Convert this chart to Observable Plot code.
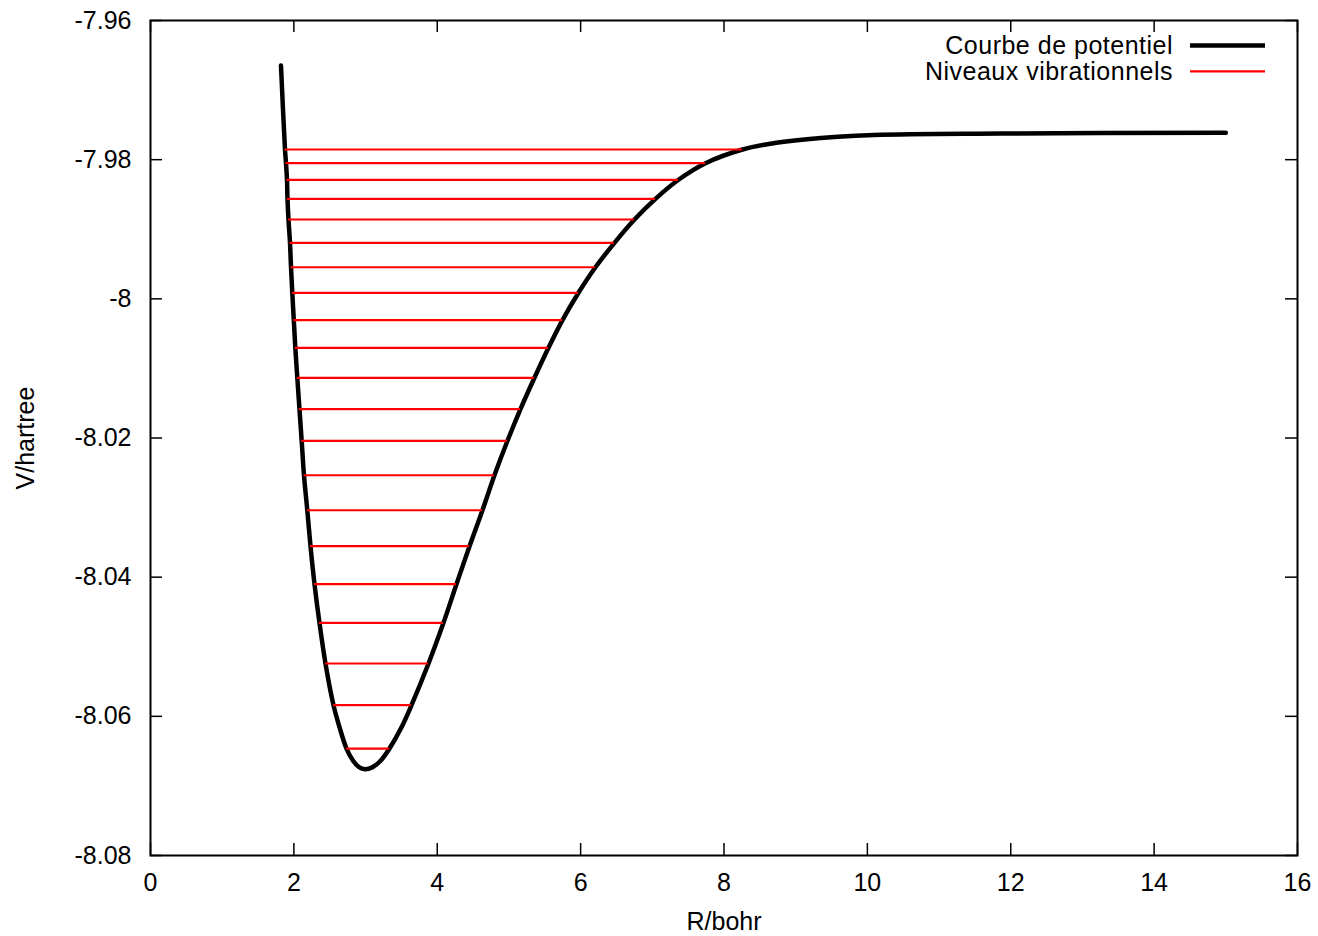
<!DOCTYPE html>
<html>
<head>
<meta charset="utf-8">
<script src="https://cdn.jsdelivr.net/npm/d3@7"></script>
<script src="https://cdn.jsdelivr.net/npm/@observablehq/plot@0.6"></script>
<style>
html, body { margin: 0; padding: 0; background: #fff; }
#wrap { position: relative; width: 1318px; height: 936px; font-family: "Liberation Sans", Arial, sans-serif; }
#legend { position: absolute; left: 0; top: 0; pointer-events: none; }
</style>
</head>
<body>
<div id="wrap"></div>
<script>
// Potential curve (R in bohr, V in hartree)
const curveR = [1.820, 1.876, 1.890, 1.904, 1.911, 1.925, 1.946, 1.960, 1.978, 1.999, 2.020, 2.048, 2.078, 2.109, 2.141, 2.187, 2.232, 2.288, 2.357, 2.441, 2.553, 2.635, 2.734, 2.824, 2.909, 2.990, 3.099, 3.213, 3.334, 3.505, 3.641, 3.878, 4.087, 4.268, 4.450, 4.631, 4.798, 4.980, 5.161, 5.356, 5.552, 5.747, 5.970, 6.207, 6.472, 6.751, 7.044, 7.365, 7.742, 8.258, 8.650, 9.120, 10.090, 11.870, 15.000];
const curveV = [-7.96647, -7.97854, -7.98051, -7.98289, -7.98563, -7.98860, -7.99195, -7.99546, -7.99913, -8.00307, -8.00704, -8.01135, -8.01586, -8.02040, -8.02535, -8.03038, -8.03555, -8.04101, -8.04656, -8.05241, -8.05840, -8.06150, -8.06463, -8.06635, -8.06730, -8.06760, -8.06730, -8.06635, -8.06463, -8.06150, -8.05840, -8.05241, -8.04656, -8.04101, -8.03555, -8.03038, -8.02535, -8.02040, -8.01586, -8.01135, -8.00704, -8.00307, -7.99913, -7.99546, -7.99195, -7.98860, -7.98563, -7.98289, -7.98051, -7.97854, -7.97770, -7.97710, -7.97646, -7.97624, -7.97614];

// Vibrational levels: energy, left and right turning points
const levelE = [-7.97854, -7.98051, -7.98289, -7.98563, -7.98860, -7.99195, -7.99546, -7.99913, -8.00307, -8.00704, -8.01135, -8.01586, -8.02040, -8.02535, -8.03038, -8.03555, -8.04101, -8.04656, -8.05241, -8.05840, -8.06463];
const levelRmin = [1.876, 1.890, 1.904, 1.911, 1.925, 1.946, 1.960, 1.978, 1.999, 2.020, 2.048, 2.078, 2.109, 2.141, 2.187, 2.232, 2.288, 2.357, 2.441, 2.553, 2.734];
const levelRmax = [8.258, 7.742, 7.365, 7.044, 6.751, 6.472, 6.207, 5.970, 5.747, 5.552, 5.356, 5.161, 4.980, 4.798, 4.631, 4.450, 4.268, 4.087, 3.878, 3.641, 3.334];

const xTicks = [0, 2, 4, 6, 8, 10, 12, 14, 16];
const yTicks = [-7.96, -7.98, -8, -8.02, -8.04, -8.06, -8.08];
const xLabel = "R/bohr";
const yLabel = "V/hartree";
const legendLabels = ["Courbe de potentiel", "Niveaux vibrationnels"];
const legendColors = ["black", "red"];

const curveData = curveR.map((r, i) => ({r, v: curveV[i]}));
const levelData = levelE.map((e, i) => ({e, r1: levelRmin[i], r2: levelRmax[i]}));

const W = 1318, H = 936, mL = 150, mR = 21, mT = 20, mB = 81;
const plotW = W - mL - mR, plotH = H - mT - mB;
const tick = 12;
const font = "'Liberation Sans', Arial, sans-serif";

const chart = Plot.plot({
  width: W, height: H,
  marginLeft: mL, marginRight: mR, marginTop: mT, marginBottom: mB,
  style: {fontFamily: font, fontSize: "25px", background: "white", color: "black"},
  x: {domain: [0, 16]},
  y: {domain: [-8.08, -7.96]},
  marks: [
    Plot.line(curveData, {x: "r", y: "v", stroke: "black", strokeWidth: 4.5, curve: "catmull-rom"}),
    Plot.ruleY(levelData, {y: "e", x1: "r1", x2: "r2", stroke: "red", strokeWidth: 2.2}),
    Plot.ruleX(xTicks, {insetTop: plotH - tick, stroke: "black", strokeWidth: 1.5}),
    Plot.ruleX(xTicks, {insetBottom: plotH - tick, stroke: "black", strokeWidth: 1.5}),
    Plot.ruleY(yTicks, {insetRight: plotW - tick, stroke: "black", strokeWidth: 1.5}),
    Plot.ruleY(yTicks, {insetLeft: plotW - tick, stroke: "black", strokeWidth: 1.5}),
    Plot.frame({stroke: "black", strokeWidth: 2}),
    Plot.axisX(xTicks, {tickSize: 0, tickPadding: 18, label: null, tickFormat: d => String(d), fontSize: 25}),
    Plot.axisY(yTicks, {tickSize: 0, tickPadding: 19, label: null, tickFormat: d => String(d), fontSize: 25}),
    Plot.text([xLabel], {text: d => d, frameAnchor: "bottom", dy: 66, textAnchor: "middle", lineAnchor: "middle", fontSize: 25, fill: "black"}),
    Plot.text([yLabel], {text: d => d, frameAnchor: "left", dx: -125, rotate: -90, textAnchor: "middle", lineAnchor: "middle", fontSize: 25, fill: "black"})
  ]
});

const wrap = document.getElementById("wrap");
wrap.appendChild(chart);

// Legend overlay (top right inside the frame)
const ns = "http://www.w3.org/2000/svg";
const leg = document.createElementNS(ns, "svg");
leg.setAttribute("id", "legend");
leg.setAttribute("width", W);
leg.setAttribute("height", H);
const rowY = [45.5, 71.3];
const widths = [4.5, 2.2];
legendLabels.forEach((lab, i) => {
  const t = document.createElementNS(ns, "text");
  t.setAttribute("x", 1173);
  t.setAttribute("y", rowY[i]);
  t.setAttribute("text-anchor", "end");
  t.setAttribute("dy", "0.35em");
  t.setAttribute("font-family", font);
  t.setAttribute("font-size", 25);
  t.setAttribute("letter-spacing", "0.5");
  t.setAttribute("fill", "black");
  t.textContent = lab;
  leg.appendChild(t);
  const l = document.createElementNS(ns, "line");
  l.setAttribute("x1", 1190);
  l.setAttribute("x2", 1265);
  l.setAttribute("y1", rowY[i]);
  l.setAttribute("y2", rowY[i]);
  l.setAttribute("stroke", legendColors[i]);
  l.setAttribute("stroke-width", widths[i]);
  leg.appendChild(l);
});
wrap.appendChild(leg);
</script>
</body>
</html>
